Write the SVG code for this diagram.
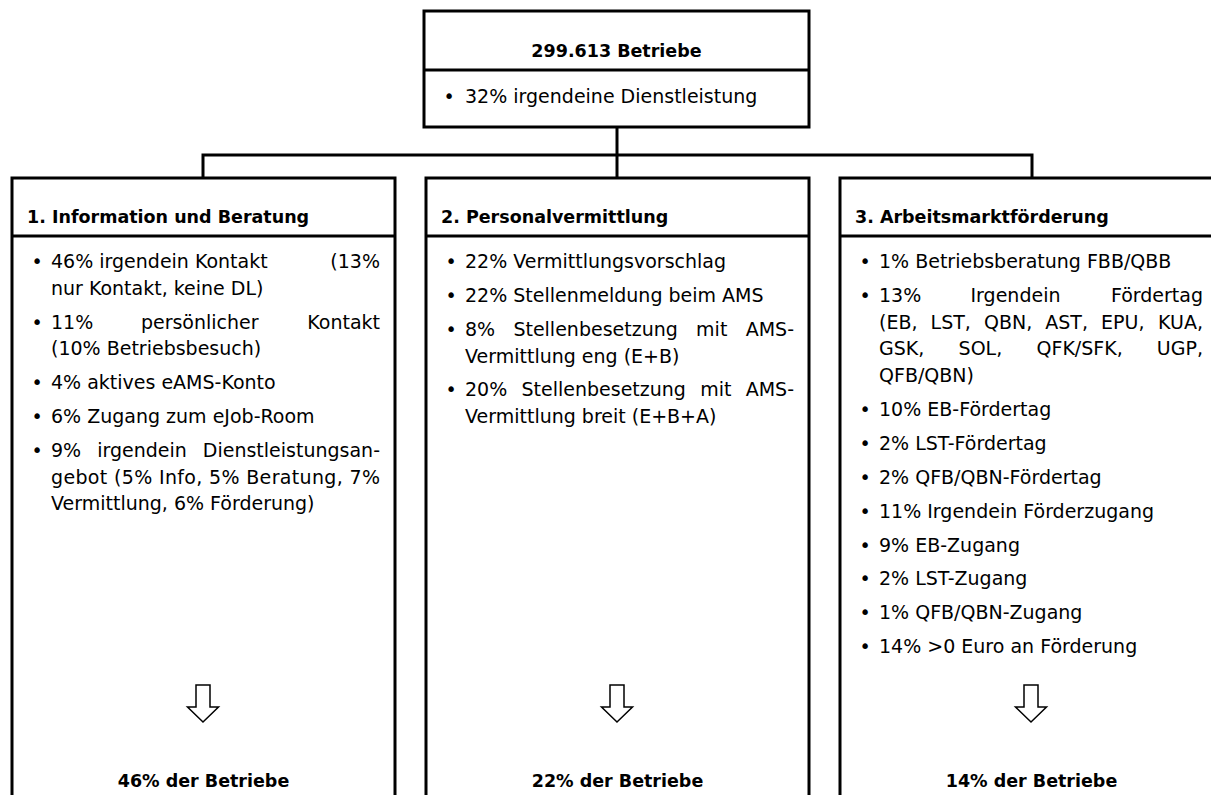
<svg xmlns="http://www.w3.org/2000/svg" width="1211" height="795" viewBox="0 0 1211 795">
<style>
.box{fill:#fff;stroke:#000;stroke-width:3}
.div{stroke:#000;stroke-width:3}
.conn{fill:none;stroke:#000;stroke-width:3}
.h{font-family:"DejaVu Sans",sans-serif;font-weight:bold;font-size:17.5px;fill:#000}
.t{font-family:"DejaVu Sans",sans-serif;font-size:19px;fill:#000}
.b{font-family:"DejaVu Sans",sans-serif;font-size:19px;fill:#000;text-anchor:middle}
.c{text-anchor:middle}
.e{text-anchor:end}
.arrow{fill:#fff;stroke:#000;stroke-width:1.5;stroke-linejoin:miter}
</style>
<rect width="1211" height="795" fill="#fff"/>
<g id="connectors">
<path class="conn" d="M203,178 V155 H1032 V178"/>
<path class="conn" d="M617,127 V178"/>
</g>
<g id="node-top">
<rect class="box" x="424" y="11" width="385" height="116"/>
<line class="div" x1="424" y1="70" x2="809" y2="70"/>
<text class="h c" x="616.5" y="57">299.613 Betriebe</text>
<text class="b" x="449" y="103">•</text>
<text class="t" x="465" y="103">32% irgendeine Dienstleistung</text>
</g>
<g id="node-information">
<rect class="box" x="12" y="178" width="383" height="640"/>
<line class="div" x1="12" y1="236" x2="395" y2="236"/>
<text class="h" x="27" y="223">1. Information und Beratung</text>
<text class="b" x="37" y="268">•</text>
<text class="b" x="37" y="328.6">•</text>
<text class="b" x="37" y="389.2">•</text>
<text class="b" x="37" y="423.1">•</text>
<text class="b" x="37" y="457">•</text>
<text class="t" x="51" y="268">46% irgendein Kontakt</text>
<text class="t e" x="380" y="268">(13%</text>
<text class="t" x="51" y="294.7">nur Kontakt, keine DL)</text>
<text class="t" x="51" y="328.6">11%</text>
<text class="t c" x="199.75" y="328.6">persönlicher</text>
<text class="t e" x="380" y="328.6">Kontakt</text>
<text class="t" x="51" y="355.3">(10% Betriebsbesuch)</text>
<text class="t" x="51" y="389.2">4% aktives eAMS-Konto</text>
<text class="t" x="51" y="423.1">6% Zugang zum eJob-Room</text>
<text class="t" x="51" y="457">9%</text>
<text class="t c" x="141.95" y="457">irgendein</text>
<text class="t e" x="380" y="457">Dienstleistungsan-</text>
<text class="t" x="51" y="483.7" textLength="329" lengthAdjust="spacing">gebot (5% Info, 5% Beratung, 7%</text>
<text class="t" x="51" y="510.4">Vermittlung, 6% Förderung)</text>
<path class="arrow" d="M196,685 H210 V707 H218.5 L203,722 L187.5,707 H196 Z"/>
<text class="h c" x="203.5" y="787">46% der Betriebe</text>
</g>
<g id="node-personalvermittlung">
<rect class="box" x="426" y="178" width="383" height="640"/>
<line class="div" x1="426" y1="236" x2="809" y2="236"/>
<text class="h" x="441" y="223">2. Personalvermittlung</text>
<text class="b" x="451" y="268">•</text>
<text class="b" x="451" y="301.9">•</text>
<text class="b" x="451" y="335.8">•</text>
<text class="b" x="451" y="396.4">•</text>
<text class="t" x="465" y="268">22% Vermittlungsvorschlag</text>
<text class="t" x="465" y="301.9">22% Stellenmeldung beim AMS</text>
<text class="t" y="335.8"><tspan x="465">8%</tspan><tspan x="513.4">Stellenbesetzung</tspan><tspan x="696.1">mit</tspan></text>
<text class="t e" x="794" y="335.8">AMS-</text>
<text class="t" x="465" y="362.5">Vermittlung eng (E+B)</text>
<text class="t" y="396.4"><tspan x="465">20%</tspan><tspan x="521.5">Stellenbesetzung</tspan><tspan x="700.2">mit</tspan></text>
<text class="t e" x="794" y="396.4">AMS-</text>
<text class="t" x="465" y="423.1">Vermittlung breit (E+B+A)</text>
<path class="arrow" d="M610,685 H624 V707 H632.5 L617,722 L601.5,707 H610 Z"/>
<text class="h c" x="617.5" y="787">22% der Betriebe</text>
</g>
<g id="node-arbeitsmarktfoerderung">
<rect class="box" x="840" y="178" width="383" height="640"/>
<line class="div" x1="840" y1="236" x2="1223" y2="236"/>
<text class="h" x="855" y="223">3. Arbeitsmarktförderung</text>
<text class="b" x="865" y="268">•</text>
<text class="b" x="865" y="301.9">•</text>
<text class="b" x="865" y="415.9">•</text>
<text class="b" x="865" y="449.8">•</text>
<text class="b" x="865" y="483.7">•</text>
<text class="b" x="865" y="517.6">•</text>
<text class="b" x="865" y="551.5">•</text>
<text class="b" x="865" y="585.4">•</text>
<text class="b" x="865" y="619.3">•</text>
<text class="b" x="865" y="653.2">•</text>
<text class="t" x="879" y="268">1% Betriebsberatung FBB/QBB</text>
<text class="t" x="879" y="301.9">13%</text>
<text class="t c" x="1015.5" y="301.9">Irgendein</text>
<text class="t e" x="1203" y="301.9">Fördertag</text>
<text class="t" y="328.6"><tspan x="879">(EB,</tspan><tspan x="930.6">LST,</tspan><tspan x="984">QBN,</tspan><tspan x="1045.3">AST,</tspan><tspan x="1101.1">EPU,</tspan></text>
<text class="t e" x="1203" y="328.6">KUA,</text>
<text class="t" y="355.3"><tspan x="879">GSK,</tspan><tspan x="958.6">SOL,</tspan><tspan x="1036.5">QFK/SFK,</tspan></text>
<text class="t e" x="1203" y="355.3">UGP,</text>
<text class="t" x="879" y="382">QFB/QBN)</text>
<text class="t" x="879" y="415.9">10% EB-Fördertag</text>
<text class="t" x="879" y="449.8">2% LST-Fördertag</text>
<text class="t" x="879" y="483.7">2% QFB/QBN-Fördertag</text>
<text class="t" x="879" y="517.6">11% Irgendein Förderzugang</text>
<text class="t" x="879" y="551.5">9% EB-Zugang</text>
<text class="t" x="879" y="585.4">2% LST-Zugang</text>
<text class="t" x="879" y="619.3">1% QFB/QBN-Zugang</text>
<text class="t" x="879" y="653.2">14% &gt;0 Euro an Förderung</text>
<path class="arrow" d="M1024,685 H1038 V707 H1046.5 L1031,722 L1015.5,707 H1024 Z"/>
<text class="h c" x="1031.5" y="787">14% der Betriebe</text>
</g>
</svg>
